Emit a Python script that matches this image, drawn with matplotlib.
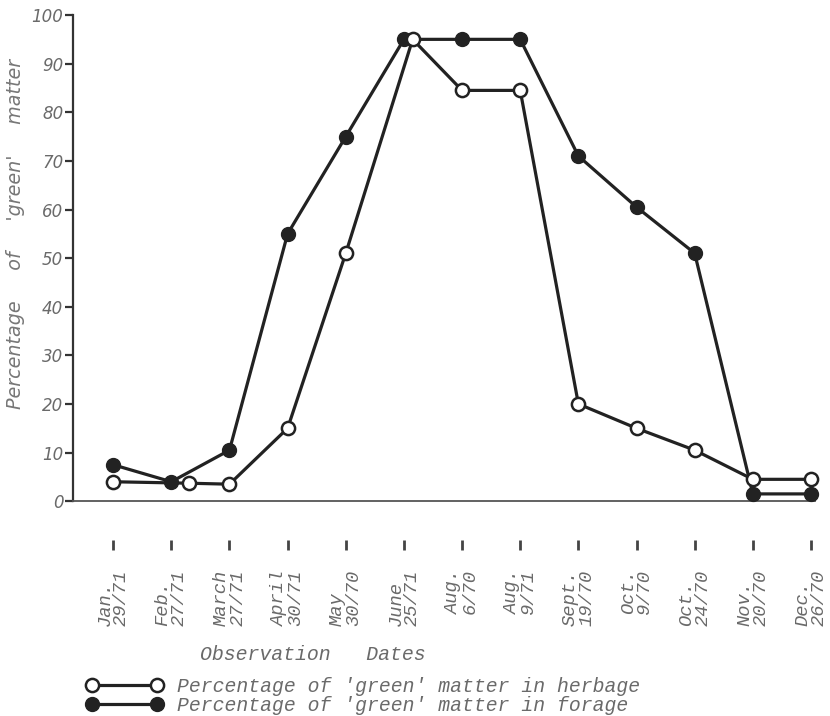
import matplotlib
matplotlib.use("Agg")
import matplotlib.pyplot as plt
from matplotlib.lines import Line2D
import matplotlib.transforms as mtransforms

# Observation dates (two-line labels)
dates = ["Jan.\n29/71", "Feb.\n27/71", "March\n27/71", "April\n30/71", "May\n30/70",
         "June\n25/71", "Aug.\n6/70", "Aug.\n9/71", "Sept.\n19/70", "Oct.\n9/70",
         "Oct.\n24/70", "Nov.\n20/70", "Dec.\n26/70"]

# Percentage of 'green' matter in herbage (open circles)
herbage = [4, 3.7, 3.5, 15, 51, 95, 84.5, 84.5, 20, 15, 10.5, 4.5, 4.5]
# Percentage of 'green' matter in forage (filled circles)
forage = [7.5, 4, 10.5, 55, 75, 95, 95, 95, 71, 60.5, 51, 1.5, 1.5]

# Plotting positions along the date axis (herbage points sit just beside forage where they coincide)
forage_pos = list(range(len(dates)))
herbage_pos = [0, 1.3, 2, 3, 4, 5.15, 6, 7, 8, 9, 10, 11, 12]

yticks = [0, 10, 20, 30, 40, 50, 60, 70, 80, 90, 100]

mono = "Liberation Mono"
ink = "#222222"
grey = "#6a6a6a"

fig = plt.figure(figsize=(8.30, 7.16), dpi=100)
ax = fig.add_axes([0.088, 0.300, 0.894, 0.679])

ax.plot(forage_pos, forage, color=ink, lw=2.3, marker="o", ms=10,
        mfc=ink, mec=ink, zorder=3, clip_on=False)
ax.plot(herbage_pos, herbage, color=ink, lw=2.3, marker="o", ms=9.5,
        mfc="white", mec=ink, mew=1.8, zorder=4, clip_on=False)

ax.set_xlim(-0.69, 12.07)
ax.set_ylim(0, 100)

for s in ("top", "right"):
    ax.spines[s].set_visible(False)
ax.spines["left"].set_color("#333333")
ax.spines["left"].set_linewidth(1.6)
ax.spines["bottom"].set_color("#555555")
ax.spines["bottom"].set_linewidth(1.3)

ax.set_yticks(yticks)
ax.set_yticklabels([str(v) for v in yticks], fontstyle="italic", color=grey,
                   fontsize=12, family="DejaVu Sans")
ax.tick_params(axis="y", direction="out", length=6, width=1.6, color="#333333", pad=1)

ax.set_xticks(forage_pos)
ax.set_xticklabels(dates, rotation=90, va="top", ha="center", multialignment="left",
                   family=mono, fontstyle="italic", fontsize=13.5, color=grey,
                   linespacing=0.95)
ax.tick_params(axis="x", length=0, pad=49)

# Short detached date markers below the axis
trans = mtransforms.blended_transform_factory(ax.transData, ax.transAxes)
ax.plot(forage_pos, [-0.09] * len(forage_pos), ls="none", marker="|", ms=7,
        mew=2, color="#444444", transform=trans, clip_on=False)

fig.text(16 / 830, 1 - 234 / 716, "Percentage     of     'green'     matter", rotation=90,
         ha="center", va="center", fontsize=13.8, fontstyle="italic", color="#777777",
         family="DejaVu Sans")

fig.text(200 / 830, 1 - 655 / 716, "Observation   Dates", ha="left", va="center",
         family=mono, fontstyle="italic", fontsize=14.3, color=grey)

handles = [
    Line2D([], [], color=ink, lw=2.3, marker="o", ms=9.5, mfc="white", mec=ink, mew=1.8),
    Line2D([], [], color=ink, lw=2.3, marker="o", ms=10, mfc=ink, mec=ink),
]
labels = ["Percentage of 'green' matter in herbage",
          "Percentage of 'green' matter in forage"]
leg = fig.legend(handles, labels, loc="upper left", bbox_to_anchor=(86 / 830, 1 - 677 / 716),
                 frameon=False, numpoints=2, handlelength=3.9, handletextpad=0.7,
                 labelspacing=0.0, borderpad=0, borderaxespad=0,
                 prop={"family": mono, "style": "italic", "size": 14.2})
for t in leg.get_texts():
    t.set_color(grey)

fig.savefig("out.png", dpi=100)
